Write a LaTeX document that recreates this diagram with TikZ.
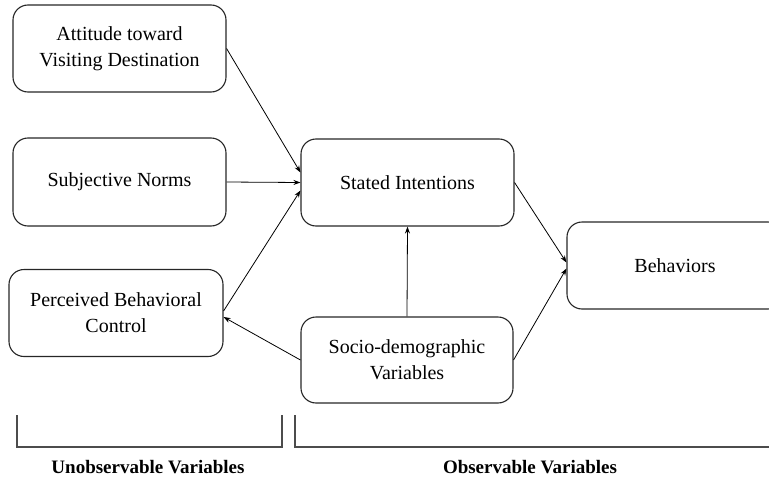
\documentclass[tikz,border=0pt]{standalone}
\usepackage{fontspec}
\setmainfont{LiberationSerif}[Extension=.ttf, UprightFont=*-Regular, BoldFont=*-Bold, ItalicFont=*-Italic, BoldItalicFont=*-BoldItalic]
\usetikzlibrary{arrows.meta}
\begin{document}
\begin{tikzpicture}[x=1pt,y=-1pt,
  box/.style={draw=black!85, line width=1.1pt, rounded corners=15pt, align=center,
    font=\fontsize{20}{26}\selectfont, inner sep=0pt},
  conn/.style={line width=0.8pt, -{Stealth[length=7pt,width=5pt]}},
  brk/.style={draw=black!70, line width=1.1pt},
  lab/.style={font=\bfseries\fontsize{19}{23}\selectfont}]
\useasboundingbox (0,0) rectangle (769,479);
\clip (0,0) rectangle (769,479);
\node[box, minimum width=213pt, minimum height=87pt] (att) at (119.5,48.5) {Attitude toward\\Visiting Destination};
\node[box, minimum width=213pt, minimum height=88pt] (subj) at (119.5,182) {Subjective Norms};
\node[box, minimum width=214pt, minimum height=87pt] (pbc) at (116,313) {Perceived Behavioral\\Control};
\node[box, minimum width=213pt, minimum height=87pt] (stated) at (407.5,182.5) {Stated Intentions};
\node[box, minimum width=212pt, minimum height=86pt] (socio) at (407,360) {Socio-demographic\\Variables};
\node[box, minimum width=216pt, minimum height=87pt] (beh) at (675,265.5) {Behaviors};
\draw[conn] (att.east) -- ([yshift=10pt]stated.west);
\draw[conn] (subj.east) -- (stated.west);
\draw[conn] ([yshift=2pt]pbc.east) -- ([yshift=-8pt]stated.west);
\draw[conn] (socio.west) -- ([yshift=-4pt]pbc.east);
\draw[conn] (socio.north) -- (stated.south);
\draw[conn] (stated.east) -- ([yshift=3pt]beh.west);
\draw[conn] (socio.east) -- ([yshift=-3pt]beh.west);
\coordinate (l1) at (17,415);
\coordinate (l2) at (282,415);
\coordinate (r1) at (295,415);
\coordinate (r2) at (780,415);
\draw[brk] (l1) -- (17,447) -- (282,447) -- (l2);
\draw[brk] (r1) -- (295,447) -- (780,447);
\node[lab] (unobs) at (148,467) {Unobservable Variables};
\node[lab] (obs) at (530,467) {Observable Variables};
\end{tikzpicture}
\end{document}
